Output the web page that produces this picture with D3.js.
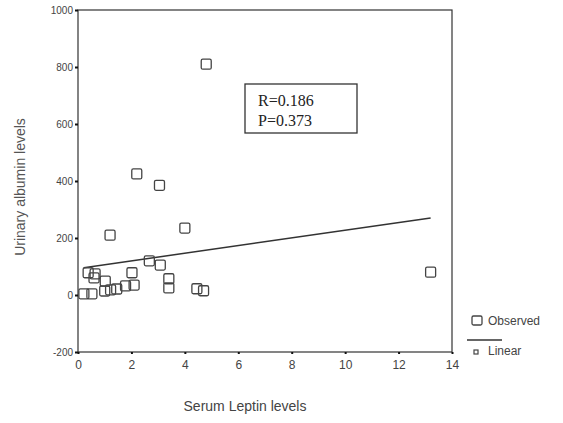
<!DOCTYPE html>
<html>
<head>
<meta charset="utf-8">
<script src="https://cdn.jsdelivr.net/npm/d3@7"></script>
<style>
  body { margin: 0; background: #fff; }
  svg { display: block; }
</style>
</head>
<body>
<svg id="chart" width="563" height="423"></svg>
<script>
// serum leptin (x) vs urinary albumin (y)
const leptin = [0.22, 0.52, 0.38, 0.64, 0.6, 1.02, 1.0, 1.22, 1.45, 1.78, 2.02, 2.1,
  2.67, 3.08, 3.4, 3.4, 4.45, 4.7, 13.2, 4.8, 2.2, 3.05, 1.2, 4.0];
const albumin = [4, 4, 78, 74, 60, 49, 14, 18, 21, 32, 78, 35,
  120, 105, 57, 25, 22, 15, 80, 810, 425, 385, 210, 235];

const xTicks = [0, 2, 4, 6, 8, 10, 12, 14];
const yTicks = [-200, 0, 200, 400, 600, 800, 1000];

// fitted line
const intercept = 93;
const slope = 13.4;
const stats = ["R=0.186", "P=0.373"];
const legendLabels = ["Observed", "Linear"];

const svg = d3.select("#chart");
const mLeft = 78, mRight = 452, mTop = 10, mBottom = 352;

const x = d3.scaleLinear().domain([0, 14]).range([mLeft, mRight]);
const y = d3.scaleLinear().domain([-200, 1000]).range([mBottom, mTop]);

// frame
svg.append("rect")
  .attr("x", mLeft).attr("y", mTop)
  .attr("width", mRight - mLeft).attr("height", mBottom - mTop)
  .attr("fill", "none").attr("stroke", "#333").attr("stroke-width", 1.2);

// axes (plain ascii labels, no thousands comma)
const xAxis = svg.append("g")
  .attr("transform", `translate(0,${mBottom})`)
  .call(d3.axisBottom(x).tickValues(xTicks).tickFormat((d) => String(d))
    .tickSize(2).tickPadding(6));
const yAxis = svg.append("g")
  .attr("transform", `translate(${mLeft},0)`)
  .call(d3.axisLeft(y).tickValues(yTicks).tickFormat((d) => String(d))
    .tickSize(3).tickPadding(2));

[xAxis, yAxis].forEach((g) => {
  g.select(".domain").remove();
  g.selectAll(".tick line").attr("stroke", "#111").attr("stroke-width", 2);
  g.selectAll("text")
    .attr("fill", "#444")
    .attr("font-family", "Liberation Sans, Arial, sans-serif");
});
xAxis.selectAll("text").attr("font-size", 12);
yAxis.selectAll("text").attr("font-size", 10);

// regression line
const xMin = d3.min(leptin), xMax = d3.max(leptin);
svg.append("line")
  .attr("x1", x(xMin)).attr("y1", y(intercept + slope * xMin))
  .attr("x2", x(xMax)).attr("y2", y(intercept + slope * xMax))
  .attr("stroke", "#333").attr("stroke-width", 1.5);

// observed points
const s = 10;
svg.append("g").selectAll("rect")
  .data(leptin.map((v, i) => [v, albumin[i]]))
  .join("rect")
  .attr("x", (d) => x(d[0]) - s / 2)
  .attr("y", (d) => y(d[1]) - s / 2)
  .attr("width", s).attr("height", s)
  .attr("rx", 1.5)
  .attr("fill", "none").attr("stroke", "#444").attr("stroke-width", 1.3);

// stats box
svg.append("rect")
  .attr("x", 245).attr("y", 84).attr("width", 112).attr("height", 49)
  .attr("fill", "none").attr("stroke", "#333").attr("stroke-width", 1.3);
svg.append("g").selectAll("text")
  .data(stats)
  .join("text")
  .attr("x", 258).attr("y", (d, i) => 106 + i * 20)
  .attr("font-family", "Liberation Serif, Times New Roman, serif")
  .attr("font-size", 16).attr("fill", "#222")
  .text((d) => d);

// axis titles
svg.append("text")
  .attr("transform", "translate(25,187) rotate(-90)")
  .attr("text-anchor", "middle")
  .attr("font-family", "Liberation Sans, Arial, sans-serif")
  .attr("font-size", 14).attr("fill", "#555")
  .text("Urinary albumin levels");
svg.append("text")
  .attr("x", 245).attr("y", 411)
  .attr("text-anchor", "middle")
  .attr("font-family", "Liberation Sans, Arial, sans-serif")
  .attr("font-size", 14).attr("fill", "#444")
  .text("Serum Leptin levels");

// legend
const legend = svg.append("g").attr("font-family", "Liberation Sans, Arial, sans-serif")
  .attr("font-size", 12).attr("fill", "#444");
legend.append("rect")
  .attr("x", 472).attr("y", 316).attr("width", 10).attr("height", 9).attr("rx", 1.5)
  .attr("fill", "none").attr("stroke", "#444").attr("stroke-width", 1.3);
legend.append("line")
  .attr("x1", 467).attr("x2", 502).attr("y1", 340).attr("y2", 340)
  .attr("stroke", "#333").attr("stroke-width", 1.3);
legend.append("rect")
  .attr("x", 474).attr("y", 350).attr("width", 4).attr("height", 4)
  .attr("fill", "none").attr("stroke", "#444").attr("stroke-width", 1.2);
legend.selectAll("text")
  .data(legendLabels)
  .join("text")
  .attr("x", 488).attr("y", (d, i) => 325 + i * 30)
  .text((d) => d);
</script>
</body>
</html>
